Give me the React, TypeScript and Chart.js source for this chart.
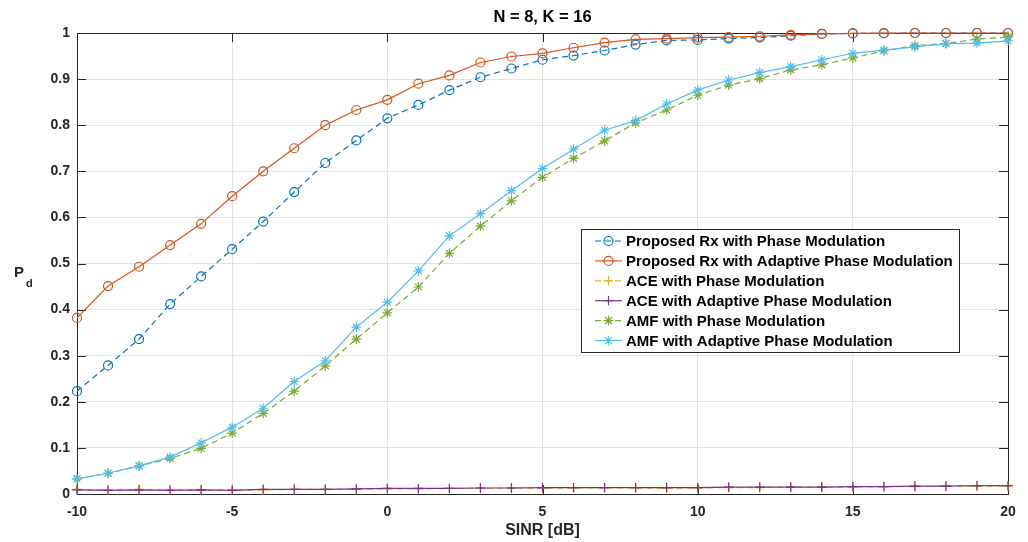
import React, { useEffect, useRef } from 'react';
import { Chart, registerables } from 'chart.js';

Chart.register(...registerables);

// ---------------- data ----------------
const sinrDb = [-10, -9, -8, -7, -6, -5, -4, -3, -2, -1, 0, 1, 2, 3, 4, 5, 6, 7, 8, 9, 10, 11, 12, 13, 14, 15, 16, 17, 18, 19, 20];

const proposedPM = [0.223, 0.279, 0.336, 0.412, 0.472, 0.531, 0.591, 0.655, 0.718, 0.767, 0.815, 0.844, 0.876, 0.904, 0.923, 0.942, 0.951, 0.962, 0.975, 0.984, 0.985, 0.988, 0.99, 0.994, 0.998, 0.999, 0.999, 1, 1, 1, 1];
const proposedAPM = [0.382, 0.451, 0.493, 0.54, 0.586, 0.646, 0.7, 0.75, 0.8, 0.833, 0.855, 0.89, 0.908, 0.936, 0.949, 0.956, 0.968, 0.979, 0.986, 0.988, 0.99, 0.991, 0.993, 0.996, 0.998, 0.999, 1, 1, 1, 1, 1];
const acePM = [0.01, 0.009, 0.01, 0.009, 0.009, 0.009, 0.009, 0.01, 0.01, 0.01, 0.011, 0.011, 0.012, 0.012, 0.013, 0.012, 0.013, 0.013, 0.013, 0.012, 0.013, 0.014, 0.014, 0.015, 0.015, 0.015, 0.016, 0.016, 0.017, 0.017, 0.017];
const aceAPM = [0.009, 0.008, 0.009, 0.008, 0.009, 0.008, 0.01, 0.01, 0.01, 0.011, 0.012, 0.012, 0.012, 0.013, 0.013, 0.014, 0.014, 0.014, 0.014, 0.014, 0.014, 0.015, 0.015, 0.015, 0.015, 0.016, 0.016, 0.017, 0.017, 0.018, 0.018];
const amfPM = [0.033, 0.045, 0.061, 0.077, 0.099, 0.132, 0.175, 0.223, 0.278, 0.336, 0.393, 0.449, 0.522, 0.581, 0.636, 0.687, 0.728, 0.766, 0.805, 0.833, 0.865, 0.887, 0.901, 0.92, 0.931, 0.946, 0.961, 0.973, 0.977, 0.987, 0.991];
const amfAPM = [0.033, 0.045, 0.061, 0.08, 0.111, 0.145, 0.186, 0.244, 0.289, 0.362, 0.416, 0.484, 0.56, 0.608, 0.658, 0.706, 0.748, 0.789, 0.81, 0.846, 0.876, 0.898, 0.914, 0.927, 0.942, 0.956, 0.963, 0.97, 0.977, 0.978, 0.983];

const seriesNames = [
  'Proposed Rx with Phase Modulation',
  'Proposed Rx with Adaptive Phase Modulation',
  'ACE with Phase Modulation',
  'ACE with Adaptive Phase Modulation',
  'AMF with Phase Modulation',
  'AMF with Adaptive Phase Modulation',
];
const seriesValues = [proposedPM, proposedAPM, acePM, aceAPM, amfPM, amfAPM];
const seriesColors = ['#0072BD', '#D95319', '#EDB120', '#7E2F8E', '#77AC30', '#4DBEEE'];
const seriesMarkers = ['circle', 'circle', 'cross', 'cross', 'star', 'star'];
const seriesDashed = [true, false, true, false, true, false];

const xTicks = [-10, -5, 0, 5, 10, 15, 20];
const xTickLabels = ['-10', '-5', '0', '5', '10', '15', '20'];
const yTicks = [0, 0.1, 0.2, 0.3, 0.4, 0.5, 0.6, 0.7, 0.8, 0.9, 1];
const yTickLabels = ['0', '0.1', '0.2', '0.3', '0.4', '0.5', '0.6', '0.7', '0.8', '0.9', '1'];

const titleText = 'N = 8, K = 16';
const xAxisTitle = 'SINR [dB]';
const yAxisMain = 'P';
const yAxisSub = 'd';

// ---------------- style ----------------
const FONT = '"Liberation Sans", Arial, Helvetica, sans-serif';
const AXIS_COLOR = '#262626';
const GRID_COLOR = '#e3e3e3';
const DASH = [6, 4];

function drawMarker(ctx: CanvasRenderingContext2D, style: string, x: number, y: number, r: number) {
  ctx.beginPath();
  if (style === 'circle') {
    ctx.arc(x, y, r, 0, Math.PI * 2);
  } else if (style === 'cross') {
    ctx.moveTo(x - r, y); ctx.lineTo(x + r, y);
    ctx.moveTo(x, y - r); ctx.lineTo(x, y + r);
  } else {
    ctx.moveTo(x - r, y); ctx.lineTo(x + r, y);
    ctx.moveTo(x, y - r); ctx.lineTo(x, y + r);
    const d = r * Math.SQRT1_2;
    ctx.moveTo(x - d, y - d); ctx.lineTo(x + d, y + d);
    ctx.moveTo(x - d, y + d); ctx.lineTo(x + d, y - d);
  }
  ctx.stroke();
}

const decorPlugin = {
  id: 'matlabDecor',
  beforeDatasetsDraw(chart: any) {
    const { ctx, chartArea } = chart;
    const { left, right, top, bottom } = chartArea;
    const xs = chart.scales.x;
    const ys = chart.scales.y;
    ctx.save();
    ctx.strokeStyle = AXIS_COLOR;
    ctx.lineWidth = 1;
    ctx.setLineDash([]);
    ctx.strokeRect(Math.round(left) + 0.5, Math.round(top) + 0.5, Math.round(right - left), Math.round(bottom - top));
    const tl = 9;
    ctx.beginPath();
    xTicks.forEach((v) => {
      const px = Math.round(xs.getPixelForValue(v)) + 0.5;
      ctx.moveTo(px, bottom); ctx.lineTo(px, bottom - tl);
      ctx.moveTo(px, top); ctx.lineTo(px, top + tl);
    });
    yTicks.forEach((v) => {
      const py = Math.round(ys.getPixelForValue(v)) + 0.5;
      ctx.moveTo(left, py); ctx.lineTo(left + tl, py);
      ctx.moveTo(right, py); ctx.lineTo(right - tl, py);
    });
    ctx.stroke();
    ctx.restore();
  },
  afterDraw(chart: any) {
    const { ctx, chartArea } = chart;
    const { left, right, top } = chartArea;
    ctx.save();

    // title
    const cx = (left + right) / 2;
    ctx.fillStyle = '#000';
    ctx.font = `bold 16.5px ${FONT}`;
    ctx.textAlign = 'center';
    ctx.textBaseline = 'middle';
    ctx.fillText(titleText, cx, 17);

    // x axis title
    ctx.fillStyle = AXIS_COLOR;
    ctx.font = `bold 16px ${FONT}`;
    ctx.fillText(xAxisTitle, cx, 531);

    // y axis title P_d
    ctx.textAlign = 'left';
    ctx.textBaseline = 'alphabetic';
    ctx.font = `bold 15px ${FONT}`;
    ctx.fillText(yAxisMain, 14, 277);
    ctx.font = `bold 11px ${FONT}`;
    ctx.fillText(yAxisSub, 26, 287);

    // legend
    ctx.font = `bold 15px ${FONT}`;
    const maxW = Math.max(...seriesNames.map((n) => ctx.measureText(n).width));
    const lx = left + 504;
    const ly = top + 196;
    const rowH = 19.9;
    const w = 45 + maxW + 6;
    const h = 12 + rowH * (seriesNames.length - 1) + 11.5;
    ctx.fillStyle = '#fff';
    ctx.fillRect(lx, ly, w, h);
    ctx.strokeStyle = AXIS_COLOR;
    ctx.lineWidth = 1;
    ctx.setLineDash([]);
    ctx.strokeRect(Math.round(lx) + 0.5, Math.round(ly) + 0.5, Math.round(w), Math.round(h));
    seriesNames.forEach((name, i) => {
      const cy = ly + 12 + i * rowH;
      ctx.strokeStyle = seriesColors[i];
      ctx.lineWidth = 1.2;
      ctx.setLineDash(seriesDashed[i] ? DASH : []);
      ctx.beginPath();
      ctx.moveTo(lx + 14, cy);
      ctx.lineTo(lx + 41, cy);
      ctx.stroke();
      ctx.setLineDash([]);
      drawMarker(ctx, seriesMarkers[i], lx + 27.5, cy, seriesMarkers[i] === 'circle' ? 4.5 : 4.8);
      ctx.fillStyle = '#000';
      ctx.textAlign = 'left';
      ctx.textBaseline = 'middle';
      ctx.fillText(name, lx + 45, cy + 1);
    });

    ctx.restore();
  },
};

export default function App() {
  const canvasRef = useRef<HTMLCanvasElement | null>(null);

  useEffect(() => {
    if (!canvasRef.current) return;
    Chart.defaults.font.family = FONT;

    const datasets = seriesNames.map((name, i) => ({
      label: name,
      data: sinrDb.map((x, k) => ({ x, y: seriesValues[i][k] })),
      borderColor: seriesColors[i],
      backgroundColor: seriesColors[i],
      borderWidth: 1.2,
      borderDash: seriesDashed[i] ? DASH : [],
      pointStyle: seriesMarkers[i] as any,
      pointRadius: seriesMarkers[i] === 'circle' ? 4.5 : 4.8,
      pointBorderWidth: 1.2,
      pointBorderColor: seriesColors[i],
      pointBackgroundColor: 'rgba(0,0,0,0)',
      fill: false,
      tension: 0,
      clip: false,
      order: seriesNames.length - i,
    }));

    const chart = new Chart(canvasRef.current, {
      type: 'line',
      data: { datasets },
      options: {
        animation: false,
        responsive: false,
        layout: { padding: { top: 33, right: 20, bottom: 0, left: 0 } },
        plugins: {
          legend: { display: false },
          title: { display: false },
          tooltip: { enabled: false },
        },
        scales: {
          x: {
            type: 'linear',
            min: -10,
            max: 20,
            afterBuildTicks: (scale: any) => {
              scale.ticks = xTicks.map((v) => ({ value: v }));
            },
            afterFit: (scale: any) => {
              scale.height = 48;
              scale.paddingLeft = 0;
              scale.paddingRight = 0;
            },
            ticks: {
              autoSkip: false,
              maxRotation: 0,
              padding: 10,
              color: AXIS_COLOR,
              font: { size: 14, weight: 'bold', family: FONT },
              callback: (v: any) => xTickLabels[xTicks.indexOf(Number(v))] ?? '',
            },
            grid: { color: GRID_COLOR, drawTicks: false, lineWidth: 1 },
            border: { display: false },
          },
          y: {
            type: 'linear',
            min: 0,
            max: 1,
            afterBuildTicks: (scale: any) => {
              scale.ticks = yTicks.map((v) => ({ value: v }));
            },
            afterFit: (scale: any) => {
              scale.width = 77;
              scale.paddingTop = 0;
              scale.paddingBottom = 0;
            },
            ticks: {
              autoSkip: false,
              padding: 7,
              color: AXIS_COLOR,
              font: { size: 14, weight: 'bold', family: FONT },
              callback: (v: any) => {
                const idx = yTicks.findIndex((t) => Math.abs(t - Number(v)) < 1e-9);
                return idx >= 0 ? yTickLabels[idx] : '';
              },
            },
            grid: { color: GRID_COLOR, drawTicks: false, lineWidth: 1 },
            border: { display: false },
          },
        },
      },
      plugins: [decorPlugin],
    });

    return () => chart.destroy();
  }, []);

  return (
    <canvas
      ref={canvasRef}
      width={1028}
      height={542}
      style={{ position: 'fixed', left: 0, top: 0, width: 1028, height: 542, display: 'block', background: '#fff' }}
    />
  );
}
